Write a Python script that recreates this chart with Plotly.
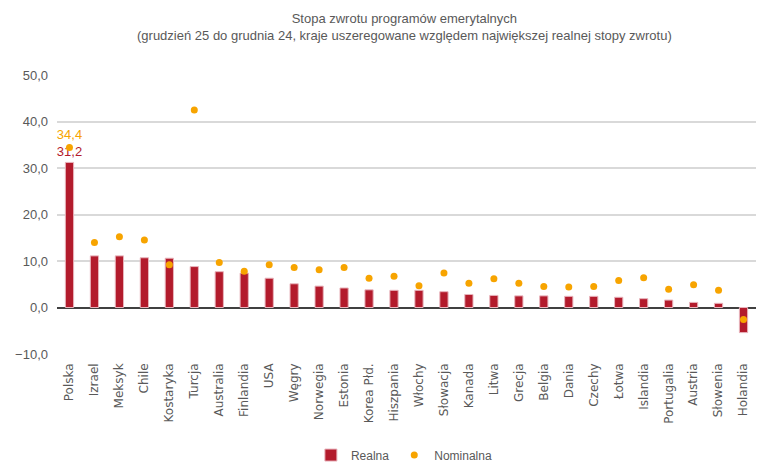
import plotly.graph_objects as go

countries = ["Polska", "Izrael", "Meksyk", "Chile", "Kostaryka", "Turcja", "Australia",
             "Finlandia", "USA", "Węgry", "Norwegia", "Estonia", "Korea Płd.", "Hiszpania",
             "Włochy", "Słowacja", "Kanada", "Litwa", "Grecja", "Belgia", "Dania", "Czechy",
             "Łotwa", "Islandia", "Portugalia", "Austria", "Słowenia", "Holandia"]
realna = [31.2, 11.1, 11.1, 10.7, 10.6, 8.8, 7.7, 7.4, 6.3, 5.1, 4.6, 4.2, 3.8, 3.7,
          3.7, 3.4, 2.8, 2.6, 2.5, 2.5, 2.4, 2.4, 2.2, 1.9, 1.6, 1.1, 0.9, -5.4]
nominalna = [34.4, 14.0, 15.2, 14.5, 9.2, 42.5, 9.7, 7.8, 9.2, 8.6, 8.1, 8.6, 6.3, 6.7,
             4.7, 7.4, 5.2, 6.2, 5.2, 4.5, 4.4, 4.5, 5.8, 6.4, 3.9, 4.9, 3.7, -2.6]
y_ticks = [-10, 0, 10, 20, 30, 40, 50]
title_lines = ["Stopa zwrotu programów emerytalnych",
               "(grudzień 25 do grudnia 24, kraje uszeregowane względem największej realnej stopy zwrotu)"]

RED = "#B31B2C"
ORANGE = "#F7A400"
GRAY = "#595959"
TXT = "Liberation Sans, Arial, sans-serif"

def fmt(v):
    return f"{v:.1f}".replace(".", ",")

bar_text = [fmt(realna[0])] + [""] * (len(realna) - 1)
dot_text = [fmt(nominalna[0])] + [""] * (len(nominalna) - 1)

fig = go.Figure()
fig.add_trace(go.Bar(
    x=countries, y=realna, name="Realna", width=0.33,
    marker=dict(color=RED, line=dict(color="#E8B4BC", width=1)),
    text=bar_text, textposition="outside", cliponaxis=False, constraintext="none",
    textfont=dict(color=RED, family=TXT, size=13),
))
fig.add_trace(go.Scatter(
    x=countries, y=nominalna, name="Nominalna", mode="markers+text",
    marker=dict(color=ORANGE, size=7),
    text=dot_text, textposition="top center", cliponaxis=False,
    textfont=dict(color=ORANGE, family=TXT, size=13),
))

fig.add_annotation(
    text="<br>".join(title_lines), xref="paper", yref="paper",
    x=0.497, xanchor="center", y=1.235, yanchor="top", showarrow=False,
    font=dict(family=TXT, size=13, color=GRAY), align="center",
)

fig.update_layout(
    width=762, height=462,
    margin=dict(l=57, r=6, t=75, b=108),
    paper_bgcolor="white", plot_bgcolor="white",
    separators=", ",
    showlegend=True,
    legend=dict(orientation="h", x=0.497, xanchor="center", yref="container", y=0.015, yanchor="middle",
                font=dict(family=TXT, size=12, color=GRAY), traceorder="normal", itemwidth=30),
    bargap=0.66,
)
fig.update_xaxes(
    range=[-0.5, len(countries) - 0.5], autorange=False,
    tickangle=-90, tickfont=dict(family="DejaVu Sans, Verdana, sans-serif", size=12, color=GRAY),
    showline=False, showgrid=False, ticks="", ticklabelstandoff=6,
)
fig.update_yaxes(
    range=[-10, 50], tickvals=y_ticks, tickformat=".1f",
    tickfont=dict(family=TXT, size=13, color=GRAY),
    showgrid=True, gridcolor="#D9D9D9", gridwidth=1.5,
    zeroline=True, zerolinecolor="#404040", zerolinewidth=1.5,
    showline=False, ticks="", ticklabelstandoff=8,
)
fig.write_html("out.html")
